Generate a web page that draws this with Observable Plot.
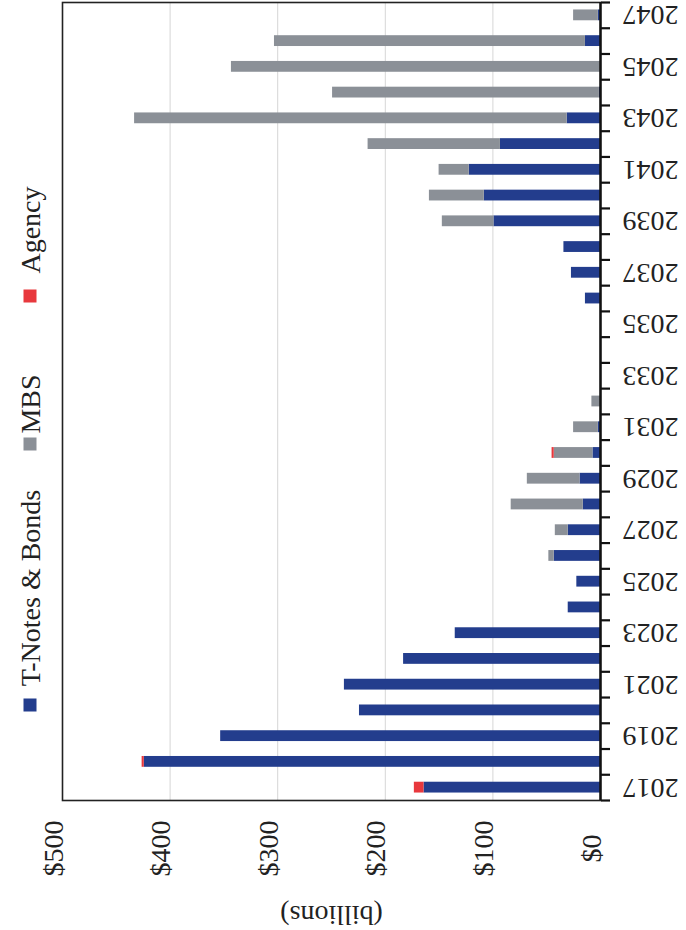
<!DOCTYPE html>
<html><head><meta charset="utf-8">
<script src="https://cdn.jsdelivr.net/npm/d3@7"></script>
<script src="https://cdn.jsdelivr.net/npm/@observablehq/plot@0.6"></script>
<style>
body{margin:0;background:#fff;}
#wrap{position:relative;width:686px;height:930px;font-family:"Liberation Serif","DejaVu Serif",serif;color:#222;}
.lg{position:absolute;font-size:28px;line-height:1;white-space:nowrap;transform:translate(-50%,-50%) rotate(-90deg);}
.sw{position:absolute;width:13px;height:13px;transform:translate(-50%,-50%);}
</style></head><body><div id="wrap"></div>
<script>
const years = [2017,2018,2019,2020,2021,2022,2023,2024,2025,2026,2027,2028,2029,2030,2031,2032,2033,2034,2035,2036,2037,2038,2039,2040,2041,2042,2043,2044,2045,2046,2047];
const tNotes = [164,424,353,224,238,183,135,30,22,43,30,16,19,7,2,0,0,0,0,14,27,34,99,108,122,93,31,1,0,14,2];
const mbs    = [0,0,0,0,0,0,0,0,0,5,12,67,49,36,23,8,0,0,0,0,0,0,48,51,28,123,402,248,343,289,23];
const agency = [9,2,0,0,0,0,0,0,0,0,0,0,0,2,0,0,0,0,0,0,0,0,0,0,0,0,0,0,0,0,0];
const seriesNames = ["T-Notes & Bonds","MBS","Agency"];
const seriesColors = ["#233d8d","#8b9097","#e8383d"];
const valueTicks = [0,100,200,300,400,500];
const gridValues = [100,200,300,400];
const yearLabels = years.filter(y => (y - 2017) % 2 === 0);
const yearBounds = years.map(y => y - 0.5).concat([years[years.length-1] + 0.5]);

const rows = [];
years.forEach((yr, i) => {
  [tNotes, mbs, agency].forEach((arr, k) => rows.push({year: yr, series: seriesNames[k], value: arr[i]}));
});

const half = 0.21;
const font = '"Liberation Serif","DejaVu Serif",serif';
const chart = Plot.plot({
  width: 686, height: 930,
  marginLeft: 62, marginRight: 86, marginTop: 2, marginBottom: 130,
  style: {fontFamily: font, fontSize: "28px", color: "#222", background: "transparent", overflow: "visible"},
  x: {domain: [0, 500], reverse: true, axis: null},
  y: {domain: [years[0] - 0.5, years[years.length-1] + 0.5], axis: null},
  color: {domain: seriesNames, range: seriesColors},
  marks: [
    Plot.ruleX(gridValues, {stroke: "#d6d6d6", strokeWidth: 1}),
    Plot.rectX(rows, Plot.stackX({
      y1: d => d.year - half, y2: d => d.year + half,
      x: "value", fill: "series", z: "series", order: seriesNames
    })),
    Plot.frame({stroke: "#222", strokeWidth: 1.6}),
    Plot.ruleX([0], {stroke: "#111", strokeWidth: 2.4}),
    Plot.axisY(yearBounds, {anchor: "right", tickSize: 9, tickFormat: () => "", stroke: "#111", strokeWidth: 2.2}),
    Plot.text(yearLabels, {y: d => d, text: d => String(d), frameAnchor: "right", dx: 50, rotate: 180, textAnchor: "middle", fontSize: 28, fill: "#222"}),
    Plot.text(valueTicks, {x: d => d, text: d => "$" + d, frameAnchor: "bottom", dy: 48, rotate: -90, textAnchor: "middle", fontSize: 28, fill: "#222"}),
    Plot.text(["(billions)"], {text: d => d, frameAnchor: "bottom", dy: 105, rotate: 180, textAnchor: "middle", fontSize: 28, fill: "#222"})
  ]
});
const wrap = document.getElementById("wrap");
wrap.appendChild(chart);
chart.style.position = "absolute"; chart.style.left = "0"; chart.style.top = "0";

// legend (rotated, reading bottom-to-top)
const legendPos = [
  {sq: 705, tx: 588},
  {sq: 444, tx: 404},
  {sq: 296, tx: 230}
];
seriesNames.forEach((name, k) => {
  const s = document.createElement("div");
  s.className = "sw"; s.style.left = "30px"; s.style.top = legendPos[k].sq + "px"; s.style.background = seriesColors[k];
  wrap.appendChild(s);
  const t = document.createElement("div");
  t.className = "lg"; t.style.left = "31px"; t.style.top = legendPos[k].tx + "px"; t.textContent = name;
  wrap.appendChild(t);
});
</script></body></html>
